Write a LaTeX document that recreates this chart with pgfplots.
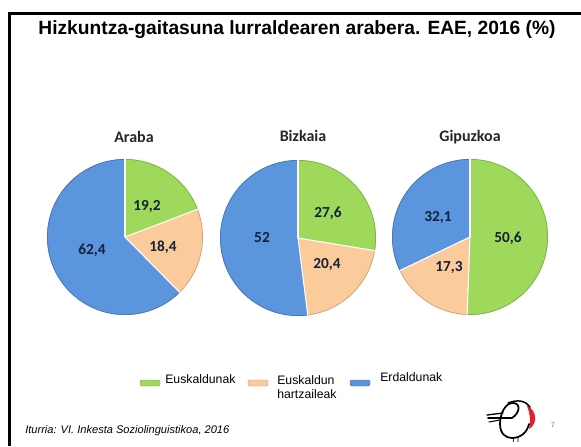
\documentclass[border=0pt]{standalone}
\usepackage{pgfplots}
\pgfplotsset{compat=1.18}
\usepackage{pgfplotstable}
\usepackage{fontspec}
\setmainfont{Liberation Sans}
\newfontfamily\calibri{Carlito}
\definecolor{cgreen}{HTML}{9ED95C}
\definecolor{cpeach}{HTML}{FCCB9C}
\definecolor{cblue}{HTML}{5A95DD}
\definecolor{clab}{HTML}{15213A}
\definecolor{clogored}{HTML}{E0202A}

% region, Euskaldunak, Euskaldun hartzaileak, Erdaldunak, pie centre (px)
\pgfplotstableread{
region   eusk  hartz erd  cx  cy
Araba    19.2  18.4  62.4 125 209
Bizkaia  27.6  20.4  52.0 298 208
Gipuzkoa 50.6  17.3  32.1 470 209
}\piedata

\begin{document}
\begin{tikzpicture}
\useasboundingbox (0,0) rectangle (435.75pt,334.5pt);
\begin{axis}[
  at={(0,0)}, anchor=south west,
  width=435.75pt, height=334.5pt, scale only axis,
  xmin=0, xmax=581, ymin=0, ymax=446,
  hide axis,
]
% frame
\draw[line width=2.3pt] (axis cs:9.5,0) -- (axis cs:9.5,432.5) -- (axis cs:590,432.5);
% title
\node[font=\bfseries\fontsize{14.4}{16}\selectfont] at (axis cs:297,416) {Hizkuntza-gaitasuna lurraldearen arabera. EAE, 2016 (\%)};

% pies from the table
\pgfplotsinvokeforeach{0,1,2}{%
  \pgfplotstablegetelem{#1}{eusk}\of\piedata \let\vE\pgfplotsretval
  \pgfplotstablegetelem{#1}{hartz}\of\piedata \let\vH\pgfplotsretval
  \pgfplotstablegetelem{#1}{cx}\of\piedata \let\vX\pgfplotsretval
  \pgfplotstablegetelem{#1}{cy}\of\piedata \let\vY\pgfplotsretval
  \pgfmathsetmacro\aB{90-3.6*\vE}%
  \pgfmathsetmacro\aC{\aB-3.6*\vH}%
  \edef\tmp{%
    \noexpand\fill[fill=cgreen] (axis cs:\vX,\vY) -- ++(90:58.5pt) arc[start angle=90, end angle=\aB, radius=58.5pt] -- cycle;
    \noexpand\fill[fill=cpeach] (axis cs:\vX,\vY) -- ++(\aB:58.5pt) arc[start angle=\aB, end angle=\aC, radius=58.5pt] -- cycle;
    \noexpand\fill[fill=cblue] (axis cs:\vX,\vY) -- ++(\aC:58.5pt) arc[start angle=\aC, end angle=-270, radius=58.5pt] -- cycle;
    \noexpand\draw[cgreen!80!black, line width=0.5pt] (axis cs:\vX,\vY) ++(90:58.2pt) arc[start angle=90, end angle=\aB, radius=58.2pt];
    \noexpand\draw[cpeach!80!black, line width=0.5pt] (axis cs:\vX,\vY) ++(\aB:58.2pt) arc[start angle=\aB, end angle=\aC, radius=58.2pt];
    \noexpand\draw[cblue!80!black, line width=0.5pt] (axis cs:\vX,\vY) ++(\aC:58.2pt) arc[start angle=\aC, end angle=-270, radius=58.2pt];
    \noexpand\draw[white, line width=0.8pt] (axis cs:\vX,\vY) -- ++(90:58.5pt);
    \noexpand\draw[white, line width=0.8pt] (axis cs:\vX,\vY) -- ++(\aB:58.5pt);
    \noexpand\draw[white, line width=0.8pt] (axis cs:\vX,\vY) -- ++(\aC:58.5pt);
  }\tmp
}

% pie titles
\begin{scope}[every node/.style={font=\calibri\bfseries\fontsize{12}{14}\selectfont, text=black!85}]
\node at (axis cs:134,309) {Araba};
\node at (axis cs:303,310) {Bizkaia};
\node at (axis cs:470,309) {Gipuzkoa};
\end{scope}

% slice labels
\begin{scope}[every node/.style={font=\calibri\bfseries\fontsize{11.5}{13}\selectfont, text=clab}]
\node at (axis cs:147,239) {19,2};
\node at (axis cs:163,199) {18,4};
\node at (axis cs:92,196) {62,4};
\node at (axis cs:328,233) {27,6};
\node at (axis cs:327,181) {20,4};
\node at (axis cs:262,208) {52};
\node at (axis cs:438,228) {32,1};
\node at (axis cs:508,208) {50,6};
\node at (axis cs:449,178) {17,3};
\end{scope}

% legend
\begin{scope}[every node/.style={font=\fontsize{9.2}{11}\selectfont, anchor=west, inner sep=0pt}]
\fill[cgreen, rounded corners=1pt] (axis cs:140,60) rectangle (axis cs:160,66);
\draw[cgreen!70!black, line width=0.3pt, rounded corners=1pt] (axis cs:140,60) rectangle (axis cs:160,66);
\node at (axis cs:165,67) {Euskaldunak};
\fill[cpeach, rounded corners=1pt] (axis cs:248,60) rectangle (axis cs:268,66);
\draw[cpeach!70!black, line width=0.3pt, rounded corners=1pt] (axis cs:248,60) rectangle (axis cs:268,66);
\node at (axis cs:277,66) {Euskaldun};
\node at (axis cs:277,52) {hartzaileak};
\fill[cblue, rounded corners=1pt] (axis cs:350,60) rectangle (axis cs:370,66);
\draw[cblue!70!black, line width=0.3pt, rounded corners=1pt] (axis cs:350,60) rectangle (axis cs:370,66);
\node at (axis cs:380,69) {Erdaldunak};
\end{scope}

% footer
\node[font=\itshape\fontsize{8.3}{10}\selectfont, anchor=west, inner sep=0pt] at (axis cs:25,15) {Iturria: VI. Inkesta Soziolinguistikoa, 2016};
\node[font=\fontsize{5}{6}\selectfont, text=blue!30!gray, inner sep=0pt] at (axis cs:553,21) {7};

% logo (stylised robin)
\fill[clogored] (axis cs:527,40) .. controls (axis cs:537,36) and (axis cs:538,22) .. (axis cs:529,17) .. controls (axis cs:531,25) and (axis cs:530,33) .. (axis cs:527,40) -- cycle;
\draw[line width=1.3pt, line cap=round, line join=round] (axis cs:488,28) -- (axis cs:512,28)
   .. controls (axis cs:520,33) and (axis cs:521,43) .. (axis cs:513,43)
   .. controls (axis cs:505,43) and (axis cs:500,32) .. (axis cs:500,22)
   .. controls (axis cs:500,12) and (axis cs:506,8) .. (axis cs:512,8)
   .. controls (axis cs:520,8) and (axis cs:527,13) .. (axis cs:529,22);
\draw[line width=1.1pt, line cap=round] (axis cs:508,43) .. controls (axis cs:518,47) and (axis cs:526,45) .. (axis cs:530,39);
\draw[line width=1.0pt, line cap=round] (axis cs:487,31) -- (axis cs:503,33);
\draw[line width=0.8pt, line cap=round] (axis cs:489,24) -- (axis cs:500,26);
\draw[line width=0.5pt] (axis cs:514,8) -- (axis cs:513,4) (axis cs:518,8) -- (axis cs:518,4);
\end{axis}
\end{tikzpicture}
\end{document}
